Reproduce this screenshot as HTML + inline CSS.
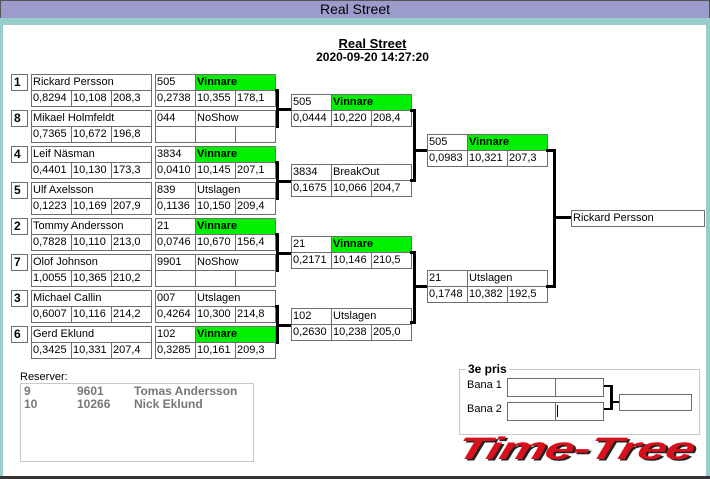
<!DOCTYPE html>
<html><head><meta charset="utf-8"><style>
*{margin:0;padding:0;box-sizing:border-box}
body{width:710px;height:479px;background:#fff;position:relative;overflow:hidden;font-family:"Liberation Sans",sans-serif;font-size:11px;color:#000}
.a{position:absolute}
.c{position:absolute;border:1px solid #6e6e6e;background:#fff;height:17px;line-height:15px;padding-left:1px;white-space:nowrap;overflow:hidden}
.g{background:#00f000;font-weight:bold}
.s{position:absolute;border:1px solid #6e6e6e;width:17px;height:17px;font-weight:bold;font-size:12px;line-height:15px;padding-left:2px}
.h{position:absolute;background:#000;height:3px}
.v{position:absolute;background:#000;width:3px}
</style></head><body>
<div class="a" style="left:0;top:0;width:710px;height:18px;background:#9c9ccc;border:1px solid #555;border-bottom:none;text-align:center;font-size:14px;line-height:17px">Real Street</div>
<div class="a" style="left:0;top:18px;width:710px;height:7px;background:#99cccc"></div>
<div class="a" style="left:0;top:18px;width:3px;height:461px;background:#99cccc"></div>
<div class="a" style="left:706px;top:18px;width:4px;height:461px;background:#99cccc"></div>
<div class="a" style="left:0;top:476px;width:710px;height:3px;background:#333"></div>
<div class="a" style="left:0;top:36px;width:745px;text-align:center;font-weight:bold;font-size:13px;text-decoration:underline">Real Street</div>
<div class="a" style="left:0;top:50px;width:745px;text-align:center;font-weight:bold;font-size:12px">2020-09-20 14:27:20</div>
<div id="b"></div>
<div class="a" style="left:20px;top:371px;font-size:11px">Reserver:</div>
<div class="a" style="left:20px;top:383px;width:234px;height:79px;border:1px solid #c8c8c8;color:#777;font-weight:bold;font-size:12px;line-height:13px;padding:1px 3px">
<div style="position:relative;height:13px"><span class="a" style="left:0">9</span><span class="a" style="left:53px">9601</span><span class="a" style="left:110px">Tomas Andersson</span></div>
<div style="position:relative;height:13px"><span class="a" style="left:0">10</span><span class="a" style="left:53px">10266</span><span class="a" style="left:110px">Nick Eklund</span></div></div>
<div class="a" style="left:459px;top:369px;width:241px;height:66px;border:1px solid #c8c8c8"></div>
<div class="a" style="left:466px;top:362px;background:#fff;padding:0 2px;font-weight:bold;font-size:12px">3e pris</div>
<div class="a" style="left:467px;top:379px">Bana 1</div>
<div class="a" style="left:467px;top:403px">Bana 2</div>
<div class="c" style="left:507px;top:378px;width:49px;height:19px"></div>
<div class="c" style="left:555px;top:378px;width:49px;height:19px"></div>
<div class="c" style="left:507px;top:402px;width:49px;height:19px"></div>
<div class="c" style="left:555px;top:402px;width:49px;height:19px"></div>
<div class="a" style="left:557px;top:405px;width:1px;height:12px;background:#000"></div>
<div class="c" style="left:619px;top:394px;width:73px;height:17px"></div>
<div class="h" style="left:604px;top:385px;width:8px;height:2px"></div>
<div class="h" style="left:604px;top:408px;width:8px;height:2px"></div>
<div class="v" style="left:610px;top:385px;height:25px"></div>
<div class="h" style="left:610px;top:401px;width:9px;height:2px"></div>
<div class="a" style="left:462px;top:432px;font-weight:bold;font-style:italic;font-size:38px;color:#d8101c;letter-spacing:-1px;transform:skewX(-15deg) scale(1.38,0.82);transform-origin:left top;text-shadow:2px 2px 0 #222;white-space:nowrap">Time-Tree</div>
<script>
var b=document.getElementById('b'),h='';
function box(x,y,r){var xs=[x,x+40,x+80];
for(var i=0;i<3;i++){var t=r[0][i];if(t===undefined)continue;var g=(t=='Vinnare');
var wd=(r[0].length==1)?121:(r[0].length==2&&i==1?81:41);
h+='<div class="c'+(g?' g':'')+'" style="left:'+xs[i]+'px;top:'+y+'px;width:'+wd+'px">'+t+'</div>';}
for(var i=0;i<3;i++){h+='<div class="c" style="left:'+xs[i]+'px;top:'+(y+16)+'px;width:41px">'+(r[1][i]||'')+'</div>';}}
var P=[['1','Rickard Persson','0,8294','10,108','208,3','505','Vinnare','0,2738','10,355','178,1'],
['8','Mikael Holmfeldt','0,7365','10,672','196,8','044','NoShow','','',''],
['4','Leif Näsman','0,4401','10,130','173,3','3834','Vinnare','0,0410','10,145','207,1'],
['5','Ulf Axelsson','0,1223','10,169','207,9','839','Utslagen','0,1136','10,150','209,4'],
['2','Tommy Andersson','0,7828','10,110','213,0','21','Vinnare','0,0746','10,670','156,4'],
['7','Olof Johnson','1,0055','10,365','210,2','9901','NoShow','','',''],
['3','Michael Callin','0,6007','10,116','214,2','007','Utslagen','0,4264','10,300','214,8'],
['6','Gerd Eklund','0,3425','10,331','207,4','102','Vinnare','0,3285','10,161','209,3']];
for(var k=0;k<8;k++){var p=P[k],y=74+36*k;
h+='<div class="s" style="left:11px;top:'+y+'px">'+p[0]+'</div>';
box(31,y,[[p[1]],[p[2],p[3],p[4]]]);
box(155,y,[[p[5],p[6]],[p[7],p[8],p[9]]]);
if(k%2==0){h+='<div class="v" style="left:276px;top:'+(y+15)+'px;height:38px"></div><div class="h" style="left:275px;top:'+(y+15)+'px;width:4px"></div><div class="h" style="left:275px;top:'+(y+51)+'px;width:4px"></div><div class="h" style="left:276px;top:'+(y+34)+'px;width:15px"></div>';}}
var R2=[[94,'505','Vinnare','0,0444','10,220','208,4'],[164,'3834','BreakOut','0,1675','10,066','204,7'],[236,'21','Vinnare','0,2171','10,146','210,5'],[308,'102','Utslagen','0,2630','10,238','205,0']];
R2.forEach(function(r){box(291,r[0],[[r[1],r[2]],[r[3],r[4],r[5]]]);});
h+='<div class="v" style="left:413px;top:109px;height:73px"></div><div class="h" style="left:410px;top:109px;width:5px"></div><div class="h" style="left:410px;top:179px;width:5px"></div><div class="h" style="left:413px;top:149px;width:14px"></div>';
h+='<div class="v" style="left:413px;top:251px;height:73px"></div><div class="h" style="left:410px;top:251px;width:5px"></div><div class="h" style="left:410px;top:321px;width:5px"></div><div class="h" style="left:413px;top:285px;width:14px"></div>';
box(427,134,[['505','Vinnare'],['0,0983','10,321','207,3']]);
box(427,270,[['21','Utslagen'],['0,1748','10,382','192,5']]);
h+='<div class="v" style="left:553px;top:149px;height:139px"></div><div class="h" style="left:546px;top:149px;width:9px"></div><div class="h" style="left:546px;top:285px;width:9px"></div><div class="h" style="left:553px;top:216px;width:18px"></div>';
h+='<div class="c" style="left:571px;top:210px;width:134px">Rickard Persson</div>';
b.innerHTML=h;
</script>
</body></html>
